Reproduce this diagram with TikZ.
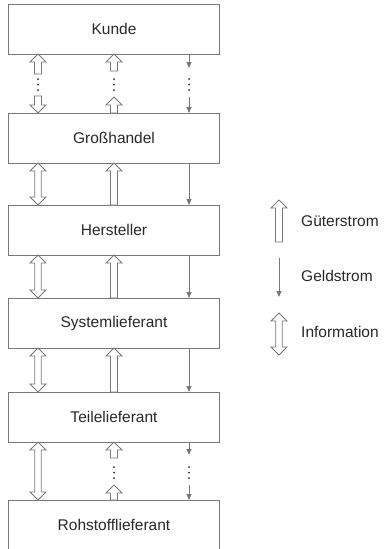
\documentclass[tikz,border=0pt]{standalone}
\usepackage{fontspec}
\setmainfont{Liberation Sans}
\usetikzlibrary{positioning}
\usetikzlibrary{calc}
\usetikzlibrary{arrows.meta}

\definecolor{linie}{RGB}{120,120,120}
\definecolor{schrift}{RGB}{40,40,40}

\begin{document}
\begin{tikzpicture}[x=1pt,y=1pt,
	box/.style={draw=linie,line width=0.8pt,minimum width=211pt,minimum height=50pt,
		outer sep=0pt,text=schrift,font=\fontsize{15.5pt}{18pt}\selectfont},
	legende/.style={text=schrift,inner sep=0pt,font=\fontsize{15.5pt}{18pt}\selectfont},
	geldpfeil/.style={draw=linie,line width=0.8pt,-{Triangle[length=6pt,width=5pt]}},
	gueterpfeil/.style={draw=linie,fill=white,line width=0.8pt,
		to path={let \p1=(\tikztostart), \p2=(\tikztotarget),
			\p3=($(\tikztotarget)!8pt!(\tikztostart)$) in
			(\x1-3.5pt,\y1) -- (\x1-3.5pt,\y3) -- (\x1-8pt,\y3) -- (\x2,\y2)
			-- (\x1+8pt,\y3) -- (\x1+3.5pt,\y3) -- (\x1+3.5pt,\y1) -- cycle}},
	infopfeil/.style={draw=linie,fill=white,line width=0.8pt,
		to path={let \p1=(\tikztostart), \p2=(\tikztotarget),
			\p3=($(\tikztostart)!8pt!(\tikztotarget)$),
			\p4=($(\tikztotarget)!8pt!(\tikztostart)$) in
			(\x1,\y1) -- (\x1+8pt,\y3) -- (\x1+3.3pt,\y3) -- (\x1+3.3pt,\y4)
			-- (\x1+8pt,\y4) -- (\x2,\y2) -- (\x1-8pt,\y4) -- (\x1-3.3pt,\y4)
			-- (\x1-3.3pt,\y3) -- (\x1-8pt,\y3) -- cycle}},
	punkt/.style={fill=schrift}]
	
	\useasboundingbox (0,0) rectangle (383,-549);
	
	\node[box] (kunde) at (114,-29) {Kunde};
	\node[box] (handel) [below=59pt of kunde] {Großhandel};
	\node[box] (hersteller) [below=42pt of handel] {Hersteller};
	\node[box] (system) [below=43pt of hersteller] {Systemlieferant};
	\node[box] (teile) [below=44pt of system] {Teilelieferant};
	\node[box] (rohstoff) [below=58pt of teile] {Rohstofflieferant};
	
	% durchgehende Verbindungen
	\foreach \oben/\unten in {handel/hersteller,hersteller/system,system/teile} {
		\path
		([xshift=-76pt]\oben.south) edge [infopfeil] ([xshift=-76pt]\unten.north)
		(\unten.north) edge [gueterpfeil] (\oben.south)
		([xshift=75pt]\oben.south) edge [geldpfeil] ([xshift=75pt]\unten.north);
	}
	\path ([xshift=-76pt]teile.south) edge [infopfeil] ([xshift=-76pt]rohstoff.north);
	
	% unterbrochene Verbindungen
	\path
	([xshift=-76pt,yshift=-20pt]kunde.south) edge [gueterpfeil] ([xshift=-76pt]kunde.south)
	([xshift=-76pt,yshift=17pt]handel.north) edge [gueterpfeil] ([xshift=-76pt]handel.north)
	([yshift=-17pt]kunde.south) edge [gueterpfeil] (kunde.south)
	(handel.north) edge [gueterpfeil] ([yshift=16pt]handel.north)
	([xshift=75pt]kunde.south) edge [geldpfeil] ([xshift=75pt,yshift=-14pt]kunde.south)
	([xshift=75pt,yshift=16pt]handel.north) edge [geldpfeil] ([xshift=75pt]handel.north)
	([yshift=-16pt]teile.south) edge [gueterpfeil] (teile.south)
	(rohstoff.north) edge [gueterpfeil] ([yshift=15pt]rohstoff.north)
	([xshift=75pt]teile.south) edge [geldpfeil] ([xshift=75pt,yshift=-13pt]teile.south)
	([xshift=75pt,yshift=15pt]rohstoff.north) edge [geldpfeil] ([xshift=75pt]rohstoff.north);
	
	\foreach \x in {-76,0,75}
		\foreach \d in {25,30.5,36}
			\fill[punkt] ([xshift=\x pt,yshift=-\d pt]kunde.south) circle (1);
	\foreach \x in {0,75}
		\foreach \d in {25,30.5,36}
			\fill[punkt] ([xshift=\x pt,yshift=-\d pt]teile.south) circle (1);
	
	% Legende
	\node[legende, anchor=base west] (lgueter) at (301,-226) {Güterstrom};
	\node[legende, anchor=base west] (lgeld) at (301,-281.5) {Geldstrom};
	\node[legende, anchor=base west] (linfo) at (301,-337.5) {Information};
	
	\path
	([xshift=-22pt,yshift=-16pt]lgueter.base west) edge [gueterpfeil] ([xshift=-22pt,yshift=26pt]lgueter.base west)
	([xshift=-22pt,yshift=23.5pt]lgeld.base west) edge [geldpfeil] ([xshift=-22pt,yshift=-15.5pt]lgeld.base west)
	([xshift=-22pt,yshift=24.5pt]linfo.base west) edge [infopfeil] ([xshift=-22pt,yshift=-17.5pt]linfo.base west);
\end{tikzpicture}
\end{document}
